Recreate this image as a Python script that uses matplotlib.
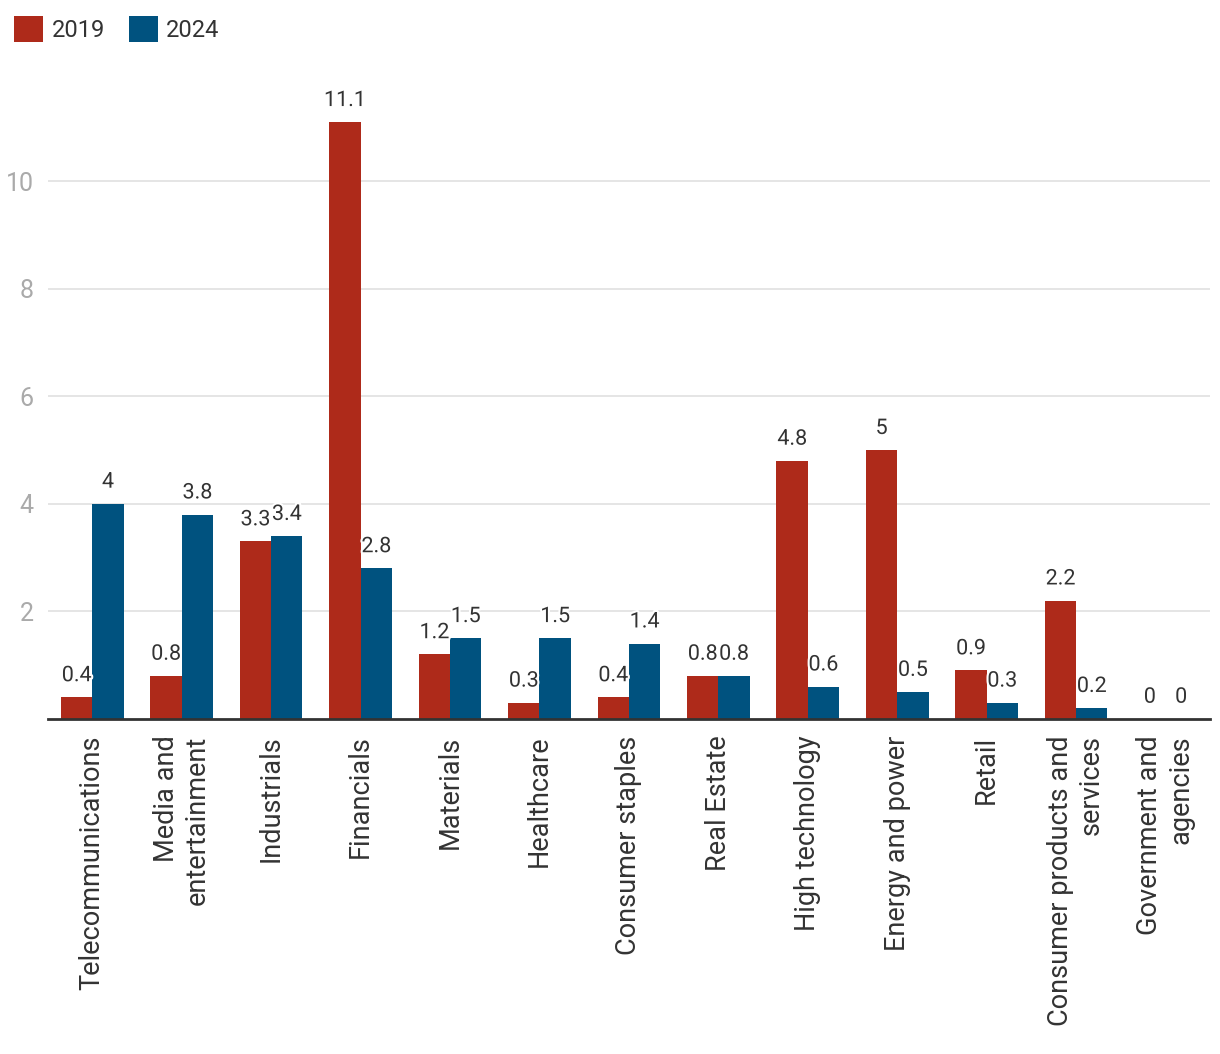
import matplotlib.pyplot as plt
import matplotlib.patheffects as pe
import numpy as np

categories = ["Telecommunications", "Media and\nentertainment", "Industrials", "Financials",
              "Materials", "Healthcare", "Consumer staples", "Real Estate", "High technology",
              "Energy and power", "Retail", "Consumer products and\nservices",
              "Government and\nagencies"]
vals_2019 = [0.4, 0.8, 3.3, 11.1, 1.2, 0.3, 0.4, 0.8, 4.8, 5, 0.9, 2.2, 0]
vals_2024 = [4, 3.8, 3.4, 2.8, 1.5, 1.5, 1.4, 0.8, 0.6, 0.5, 0.3, 0.2, 0]
years = ["2019", "2024"]

red = "#ae2a1a"
blue = "#00527f"

plt.rcParams['font.family'] = ['Roboto', 'DejaVu Sans']

fig = plt.figure(figsize=(12.2, 10.54), dpi=100)
ax = fig.add_axes([0.039, 0.318, 0.953, 0.612])

x = np.arange(len(categories))
w = 0.35
b1 = ax.bar(x - w / 2, vals_2019, w, color=red, label=years[0])
b2 = ax.bar(x + w / 2, vals_2024, w, color=blue, label=years[1])

halo = [pe.withStroke(linewidth=3, foreground="white")]
for bars in (b1, b2):
    for rect in bars:
        h = rect.get_height()
        ax.annotate(f"{h:g}", (rect.get_x() + rect.get_width() / 2, h),
                    xytext=(0, 8), textcoords="offset points",
                    ha="center", va="bottom", fontsize=15.5, color="#333333",
                    path_effects=halo)

ax.set_xlim(-0.5, len(categories) - 0.5)
ax.set_ylim(0, 12)
ax.set_yticks([2, 4, 6, 8, 10])
ax.tick_params(axis="y", length=0, labelsize=18, labelcolor="#aaaaaa", pad=10)
ax.grid(axis="y", color="#e0e0e0", linewidth=1.2)
ax.set_axisbelow(True)

ax.set_xticks(x)
ax.set_xticklabels(categories, rotation=90, ha="center", va="top",
                   multialignment="right", fontsize=19.5, color="#333333",
                   linespacing=1.2)
ax.tick_params(axis="x", length=0, pad=12)

for s in ["top", "right", "left"]:
    ax.spines[s].set_visible(False)
ax.spines["bottom"].set_color("#333333")
ax.spines["bottom"].set_linewidth(2)

fig.legend(loc="upper left", bbox_to_anchor=(-0.006, 1.005), ncol=2, frameon=False,
           fontsize=17, handlelength=1.25, handleheight=1.3, columnspacing=1.0,
           handletextpad=0.35, labelcolor="#333333")

fig.savefig("out.png", dpi=100)
